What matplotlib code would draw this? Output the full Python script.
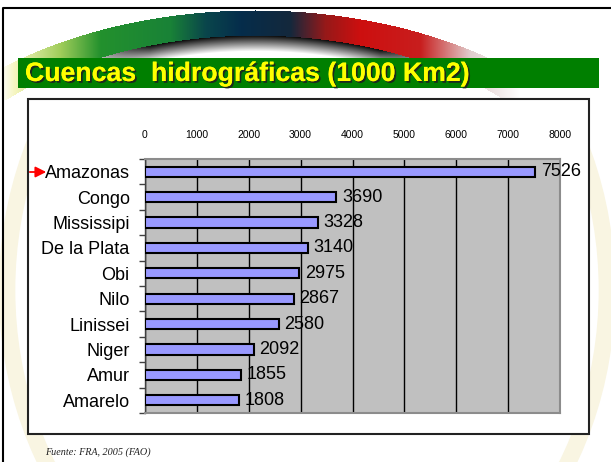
import numpy as np
import matplotlib
matplotlib.use("Agg")
import matplotlib.pyplot as plt
from matplotlib.patches import Rectangle, Ellipse
import matplotlib.patheffects as pe

rivers = ["Amazonas", "Congo", "Mississipi", "De la Plata", "Obi",
          "Nilo", "Linissei", "Niger", "Amur", "Amarelo"]
areas = [7526, 3690, 3328, 3140, 2975, 2867, 2580, 2092, 1855, 1808]
x_ticks = [0, 1000, 2000, 3000, 4000, 5000, 6000, 7000, 8000]

title = "Cuencas  hidrográficas (1000 Km2)"
source = "Fuente: FRA, 2005 (FAO)"

W, H = 611, 462
fig = plt.figure(figsize=(W / 100, H / 100), dpi=100)
fig.patch.set_facecolor("white")

# slide background in pixel coordinates
bg = fig.add_axes([0, 0, 1, 1])
bg.set_xlim(0, W)
bg.set_ylim(H, 0)
bg.axis("off")

# rainbow arc behind the title
hh = 100
yy, xx = np.mgrid[0:hh, 0:W].astype(float)
cx, cy, a, b = 255.0, 250.0, 390.0, 240.0
r = np.sqrt(((xx - cx) / a) ** 2 + ((yy - cy) / b) ** 2)
stops_x = [0, 15, 60, 100, 170, 205, 240, 290, 325, 360, 420, 470, 520, 611]
stops_c = np.array([
    [255, 255, 255], [245, 245, 190], [160, 205, 90], [35, 145, 45],
    [25, 130, 55], [10, 70, 75], [5, 45, 75], [20, 40, 60],
    [150, 25, 25], [205, 15, 15], [200, 30, 30], [225, 205, 205],
    [255, 255, 255], [255, 255, 255]], float) / 255
band = np.stack([np.interp(xx, stops_x, stops_c[:, k]) for k in range(3)], axis=-1)
img = np.ones((hh, W, 3))
in_band = (r <= 1.0) & (r > 0.895)
img[in_band] = band[in_band]
shadow = (r <= 0.895) & (r > 0.83)
sh_strength = np.interp(xx, [80, 150, 380, 440], [0, 1, 1, 0]) * np.clip((r - 0.83) / 0.065, 0, 1)
for k in range(3):
    img[..., k] = np.where(shadow, 1 - sh_strength * 0.95, img[..., k])
bg.imshow(img, extent=(0, W, hh, 0), aspect="auto", zorder=0.6)

# faint swoosh in the margins
bg.add_patch(Ellipse((307, 290), 600, 700, fill=False, edgecolor="#f9f5e2",
                     linewidth=12, zorder=0.5))

# slide frame
bg.plot([3, 3, W + 5], [H + 5, 8, 8], color="black", lw=1.5, zorder=1)

# green title bar
bg.add_patch(Rectangle((18, 58), 581, 30, facecolor="#007f00", edgecolor="none", zorder=2))
bg.text(25, 74, title, color="#ffff00", fontsize=19.2, fontweight="bold",
        family="Liberation Sans", va="center", ha="left", zorder=3,
        path_effects=[pe.withSimplePatchShadow(offset=(1.3, -1.3), shadow_rgbFace="#202020", alpha=0.9),
                      pe.Normal()])

# white chart box
bg.add_patch(Rectangle((28, 99), 561, 335, facecolor="white", edgecolor="#222222",
                       linewidth=1.5, zorder=2))

# red arrow pointing to Amazonas
bg.annotate("", xy=(49, 172), xytext=(27, 172),
            arrowprops=dict(arrowstyle="-|>", color="red", lw=1.3, mutation_scale=16),
            zorder=4)

bg.text(45, 455, source, fontsize=7.3, style="italic", family="Liberation Serif",
        color="#222222", ha="left", va="baseline", zorder=3)

# chart
ax = fig.add_axes([145 / W, (H - 413) / H, 415 / W, 254 / H], zorder=5)
ax.set_facecolor("#c0c0c0")
ypos = np.arange(len(rivers))
ax.barh(ypos, areas, height=0.4, color="#9999ff", edgecolor="black", linewidth=1.5, zorder=3)
ax.set_xlim(0, 8000)
ax.set_ylim(len(rivers) - 0.5, -0.5)
ax.set_xticks(x_ticks)
ax.xaxis.tick_top()
ax.tick_params(axis="x", length=0, pad=14, labelsize=7.5)
ax.grid(axis="x", color="black", linewidth=1, zorder=1)
ax.set_yticks(ypos)
ax.set_yticklabels(rivers, family="Liberation Sans", fontsize=13)
ax.tick_params(axis="y", length=0, pad=11)
ax.set_yticks(np.arange(len(rivers) + 1) - 0.5, minor=True)
ax.tick_params(axis="y", which="minor", length=4, width=1, color="#404040", direction="out")
for lab in ax.get_xticklabels():
    lab.set_family("Liberation Sans")
for s in ["top", "right", "bottom"]:
    ax.spines[s].set_color("#8c8c8c")
    ax.spines[s].set_linewidth(1.5)
ax.spines["left"].set_color("#404040")
ax.spines["left"].set_linewidth(1)

for y, v in zip(ypos, areas):
    ax.annotate(str(v), xy=(v, y), xytext=(4, 0), textcoords="offset points",
                va="center", ha="left", fontsize=13, family="Liberation Sans",
                annotation_clip=False, zorder=6)

fig.savefig("out.png", dpi=100)
